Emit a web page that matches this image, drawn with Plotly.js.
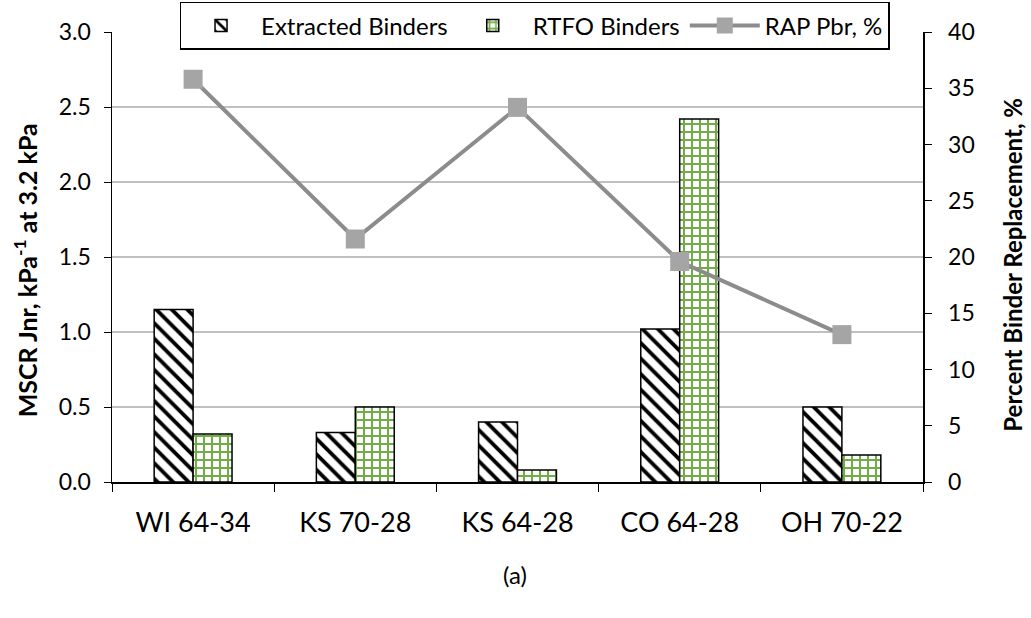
<!DOCTYPE html>
<html>
<head>
<meta charset="utf-8">
<script src="https://cdn.plot.ly/plotly-3.0.1.min.js"></script>
<style>html,body{margin:0;padding:0;background:#fff;}#chart{width:1031px;height:618px;}</style>
</head>
<body>
<div id="chart"></div>
<script>
const categories = ["WI 64-34", "KS 70-28", "KS 64-28", "CO 64-28", "OH 70-22"];
const extractedJnr = [1.15, 0.33, 0.40, 1.02, 0.50];
const rtfoJnr = [0.32, 0.50, 0.08, 2.42, 0.18];
const rapPbr = [35.8, 21.6, 33.3, 19.6, 13.1];
const leftTicks = [0, 0.5, 1, 1.5, 2, 2.5, 3];
const rightTicks = [0, 5, 10, 15, 20, 25, 30, 35, 40];
const leftTitle = "<b>MSCR Jnr, kPa<sup>-1</sup> at 3.2 kPa</b>";
const rightTitle = "<b>Percent Binder Replacement, %</b>";
const caption = "(a)";

const FONT = "Lato, 'Open Sans', sans-serif";

const traces = [
  {
    type: "bar", name: "Extracted Binders", x: categories, y: extractedJnr,
    marker: {
      color: "white",
      line: {color: "black", width: 1.5},
      pattern: {shape: "\\", fgcolor: "black", bgcolor: "white", size: 11, solidity: 0.35}
    },
    hoverinfo: "skip"
  },
  {
    type: "bar", name: "RTFO Binders", x: categories, y: rtfoJnr,
    marker: {
      color: "white",
      line: {color: "black", width: 1.5},
      pattern: {shape: "+", fgcolor: "#70AD47", bgcolor: "white", size: 8, solidity: 0.44}
    },
    hoverinfo: "skip"
  },
  {
    type: "scatter", mode: "lines+markers", name: "RAP Pbr, %", x: categories, y: rapPbr,
    yaxis: "y2",
    line: {color: "#8C8C8C", width: 4},
    marker: {symbol: "square", size: 19, color: "#A5A5A5"},
    hoverinfo: "skip"
  }
];

const layout = {
  width: 1031, height: 618,
  margin: {l: 112, r: 108, t: 32, b: 136, autoexpand: false},
  paper_bgcolor: "white", plot_bgcolor: "white",
  font: {family: FONT, size: 23, color: "black"},
  barmode: "group", bargap: 0.52, bargroupgap: 0,
  showlegend: true,
  legend: {
    orientation: "h", x: 0.521, xanchor: "center", y: 1.067, yanchor: "top",
    bordercolor: "black", borderwidth: 1.5, bgcolor: "white",
    font: {family: FONT, size: 24, color: "black"},
    itemwidth: 70, tracegroupgap: 0, traceorder: "normal"
  },
  xaxis: {
    type: "category", tickson: "boundaries", ticks: "outside", ticklen: 8, tickcolor: "black",
    showline: true, linecolor: "black", linewidth: 1.5, showgrid: false,
    tickfont: {family: FONT, size: 27, color: "black"}, ticklabelstandoff: 16
  },
  yaxis: {
    range: [0, 3], tickvals: leftTicks, tickformat: ".1f",
    ticks: "outside", ticklen: 7, tickcolor: "black",
    showline: true, linecolor: "black", linewidth: 1.5,
    showgrid: true, gridcolor: "#C0C0C0", gridwidth: 1.5, zeroline: false,
    tickfont: {family: FONT, size: 23, color: "black"}, ticklabelstandoff: 8
  },
  yaxis2: {
    range: [0, 40], tickvals: rightTicks, overlaying: "y", side: "right",
    ticks: "outside", ticklen: 7, tickcolor: "black",
    showline: true, linecolor: "black", linewidth: 1.5,
    showgrid: false, zeroline: false,
    tickfont: {family: FONT, size: 23, color: "black"}, ticklabelstandoff: 12
  },
  annotations: [
    {text: leftTitle, textangle: -90, xref: "paper", yref: "paper", x: -0.107, y: 0.471,
     xanchor: "center", yanchor: "middle", showarrow: false, font: {family: FONT, size: 25, color: "black"}},
    {text: rightTitle, textangle: -90, xref: "paper", yref: "paper", x: 1.111, y: 0.483,
     xanchor: "center", yanchor: "middle", showarrow: false, font: {family: FONT, size: 24, color: "black"}},
    {text: caption, xref: "paper", yref: "paper", x: 0.497, y: -0.205, xanchor: "center", yanchor: "middle",
     showarrow: false, font: {family: FONT, size: 24, color: "black"}}
  ]
};

Plotly.newPlot("chart", traces, layout, {displayModeBar: false, staticPlot: true});
</script>
</body>
</html>
